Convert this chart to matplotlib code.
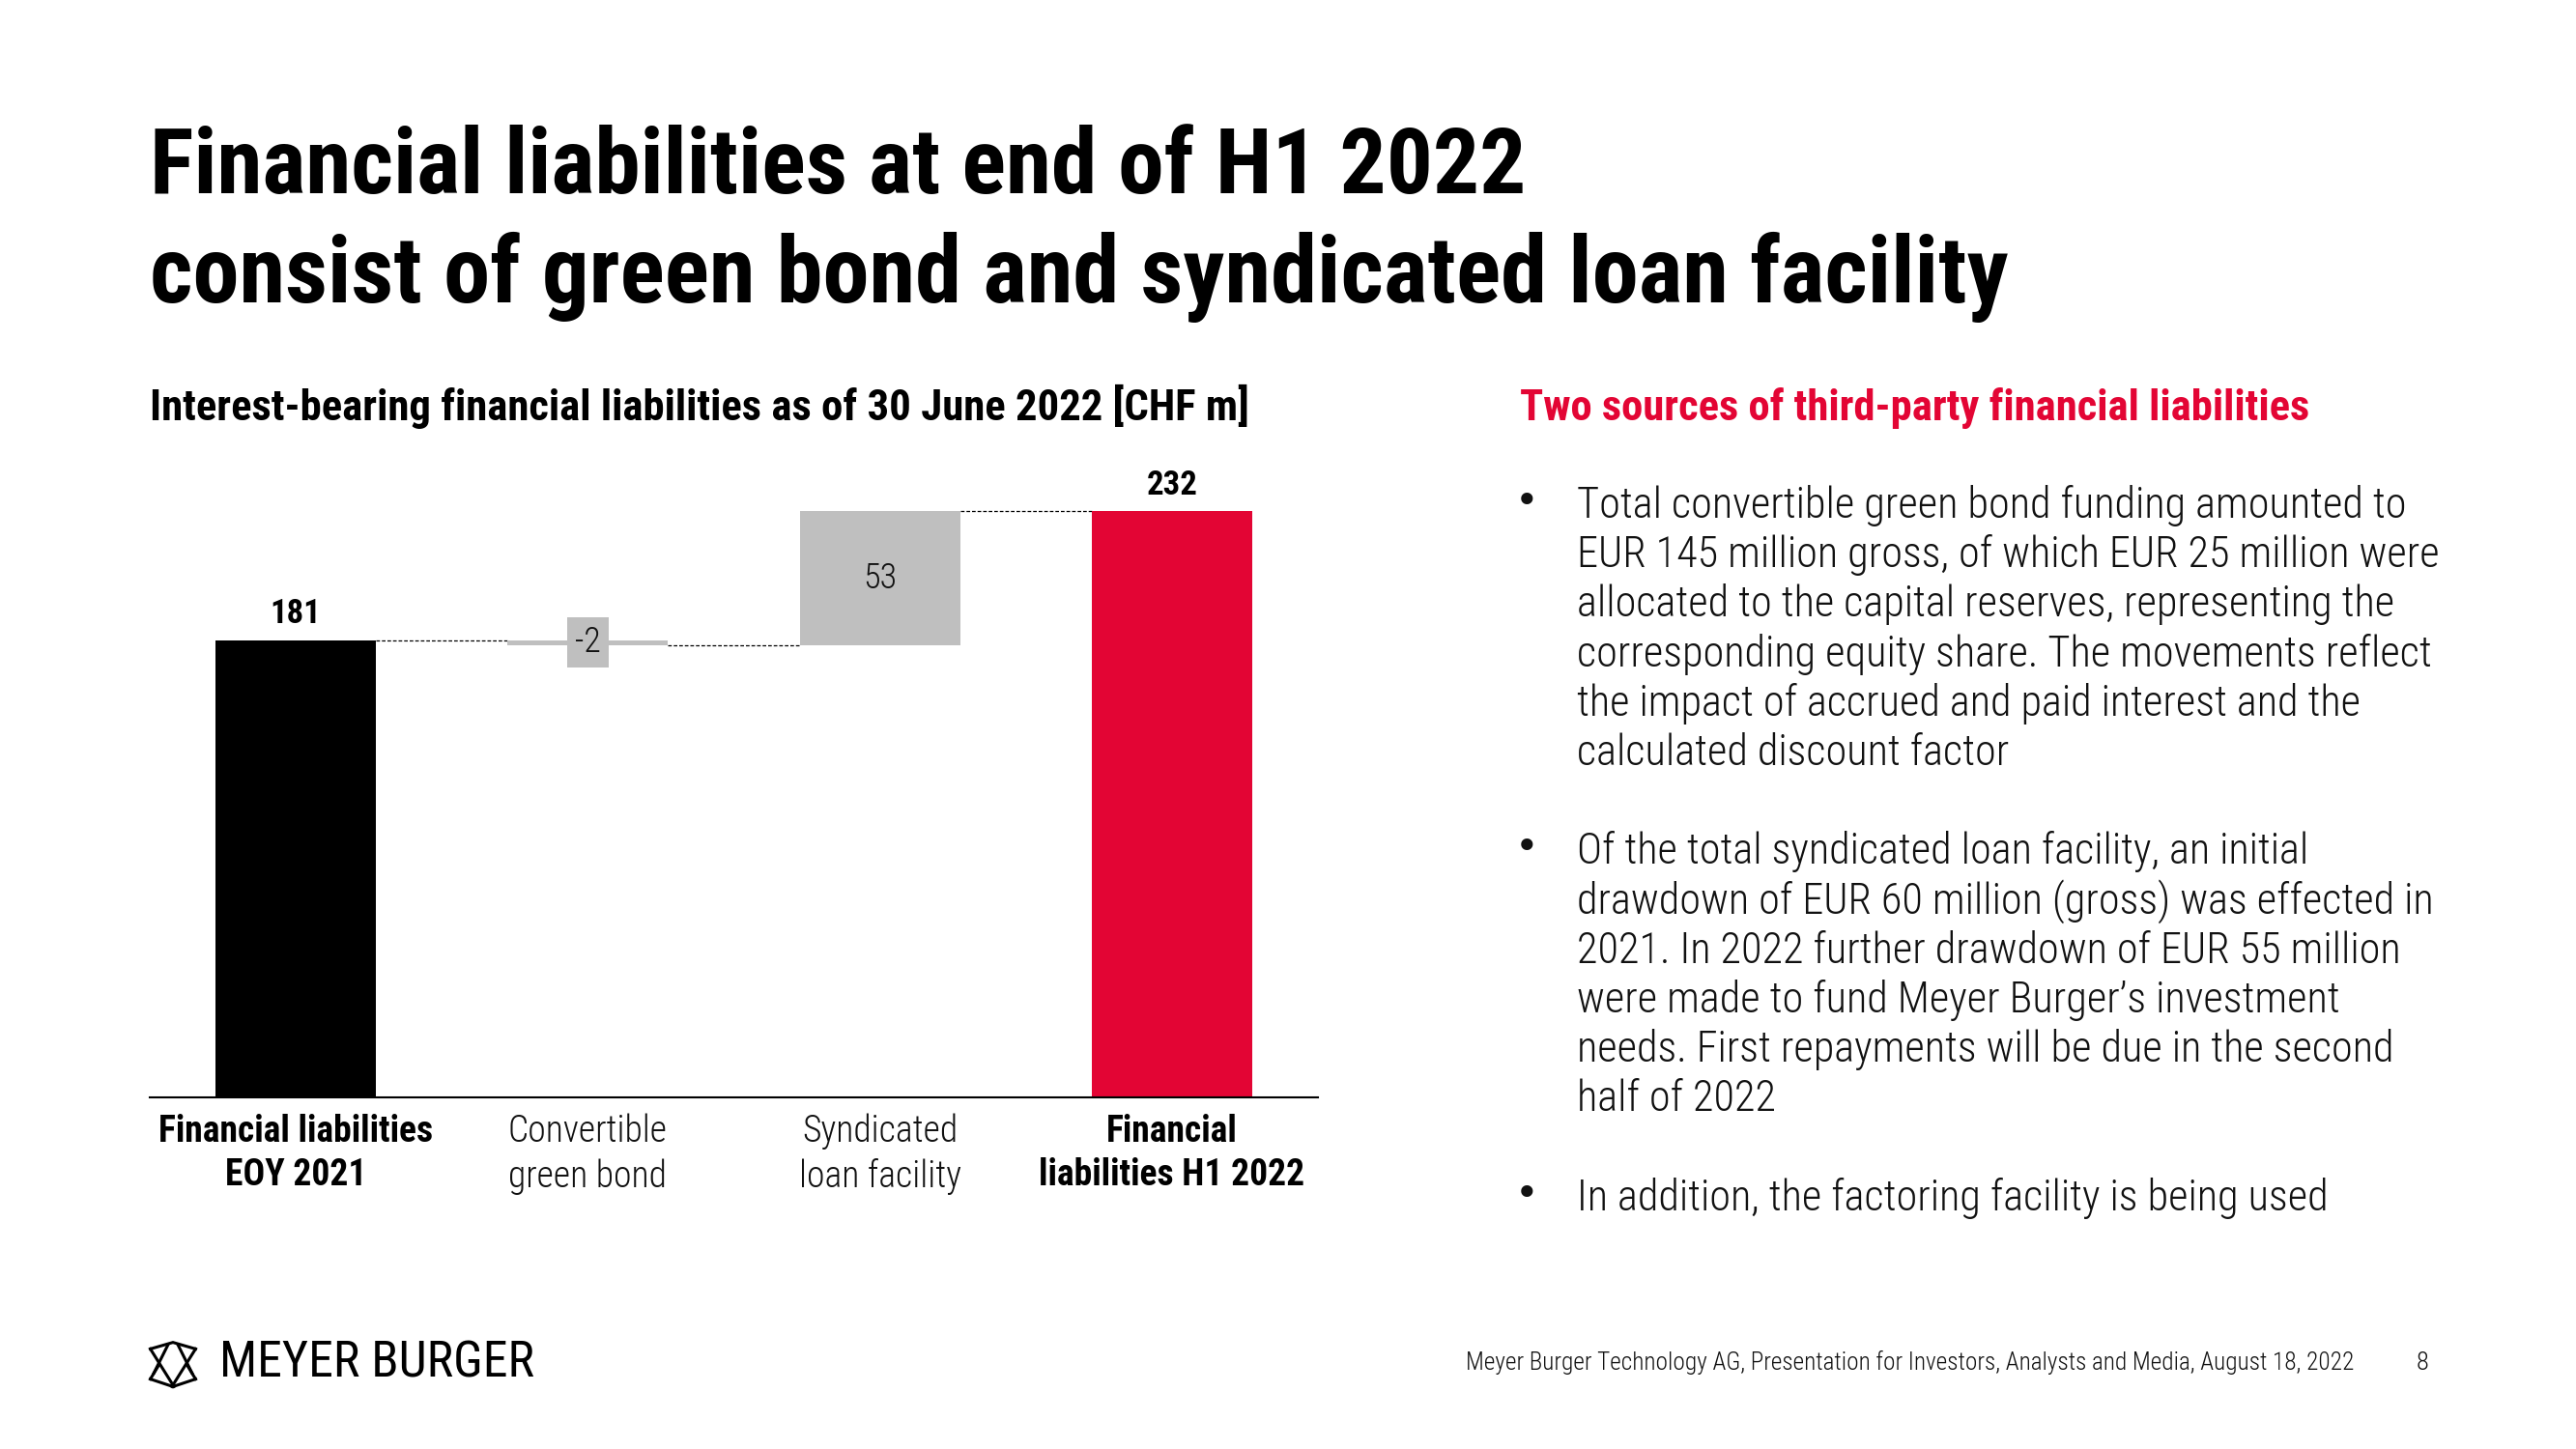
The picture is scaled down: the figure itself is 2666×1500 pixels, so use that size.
import matplotlib
matplotlib.use("Agg")
import matplotlib.pyplot as plt
import numpy as np
from matplotlib import font_manager as fm

# ---------------- data ----------------
categories = ["Financial liabilities\nEOY 2021", "Convertible\ngreen bond",
              "Syndicated\nloan facility", "Financial\nliabilities H1 2022"]
values = [181, -2, 53, 232]
kinds = ["total", "delta", "delta", "total"]
value_labels = ["181", "-2", "53", "232"]
bold_categories = [True, False, False, True]
bar_colors = ["#000000", "#BFBFBF", "#BFBFBF", "#E30534"]

title_lines = ["Financial liabilities at end of H1 2022",
               "consist of green bond and syndicated loan facility"]
subtitle = "Interest-bearing financial liabilities as of 30 June 2022 [CHF m]"
right_heading = "Two sources of third-party financial liabilities"
bullets = [
    ["Total convertible green bond funding amounted to",
     "EUR 145 million gross, of which EUR 25 million were",
     "allocated to the capital reserves, representing the",
     "corresponding equity share. The movements reflect",
     "the impact of accrued and paid interest and the",
     "calculated discount factor"],
    ["Of the total syndicated loan facility, an initial",
     "drawdown of EUR 60 million (gross) was effected in",
     "2021. In 2022 further drawdown of EUR 55 million",
     "were made to fund Meyer Burger\u2019s investment",
     "needs. First repayments will be due in the second",
     "half of 2022"],
    ["In addition, the factoring facility is being used"],
]
footer_text = "Meyer Burger Technology AG, Presentation for Investors, Analysts and Media, August 18, 2022"
page_number = "8"
brand = "MEYER BURGER"

# ---------------- fonts ----------------
avail = {f.name for f in fm.fontManager.ttflist}
FONT = next((f for f in ["Roboto Condensed", "Liberation Sans Narrow",
                         "Open Sans Condensed", "Lato"] if f in avail), "DejaVu Sans")
plt.rcParams["font.family"] = [FONT, "DejaVu Sans"]

RED = "#E30534"
TXT = "#111111"

W, H = 2666, 1500
fig = plt.figure(figsize=(W / 100, H / 100), dpi=100)
fig.patch.set_facecolor("white")

to_fit = []  # (text, target width px)


def ftext(x, y, s, target_w=None, **kw):
    kw.setdefault("va", "baseline")
    t = fig.text(x / W, 1 - y / H, s, **kw)
    if target_w is not None:
        to_fit.append((t, target_w))
    return t


# ---------------- chart ----------------
ax_left, ax_right, ax_bottom = 155, 1364, 1136
ymax = 260
px_per_unit = 2.615
ax = fig.add_axes([ax_left / W, 1 - ax_bottom / H, (ax_right - ax_left) / W,
                   ymax * px_per_unit / H])

x = np.arange(len(values))
bottoms, heights = [], []
running = 0
for v, k in zip(values, kinds):
    if k == "total":
        bottoms.append(0)
        heights.append(v)
        running = v
    else:
        bottoms.append(running)
        heights.append(v)
        running += v

bw = 0.55
ax.bar(x, heights, bottom=bottoms, width=bw, color=bar_colors, edgecolor="none", zorder=2)

# connectors
for i in range(len(values) - 1):
    level = bottoms[i] + heights[i]
    ax.plot([x[i] + bw / 2, x[i + 1] - bw / 2], [level, level], color="black",
            lw=0.9, ls=(0, (3, 1.6)), zorder=1)

# value labels
for i, (lab, k) in enumerate(zip(value_labels, kinds)):
    if k == "total":
        ax.annotate(lab, (x[i], bottoms[i] + heights[i]), xytext=(0, 12.5),
                    textcoords="offset points", ha="center", va="baseline",
                    fontsize=25, fontweight="bold", color="black")
    else:
        ax.text(x[i], bottoms[i] + heights[i] / 2, lab, ha="center", va="center",
                fontsize=26, fontweight="light", color="#111111", zorder=3,
                bbox=dict(boxstyle="square,pad=0.22", facecolor=bar_colors[i],
                          edgecolor="none"))

ax.set_xlim(-0.5, 3.5)
ax.set_ylim(0, ymax)
for s in ["top", "right", "left"]:
    ax.spines[s].set_visible(False)
ax.spines["bottom"].set_linewidth(1.5)
ax.spines["bottom"].set_color("black")
ax.set_yticks([])
ax.set_xticks(x)
ax.set_xticklabels(categories, linespacing=1.3)
ax.tick_params(axis="x", length=0, pad=12, labelsize=21)
for lbl, b in zip(ax.get_xticklabels(), bold_categories):
    lbl.set_fontweight("bold" if b else "light")
    lbl.set_color("black" if b else TXT)

# ---------------- texts ----------------
ftext(155, 200, title_lines[0], target_w=1426, fontsize=60, fontweight="bold", color="black")
ftext(155, 313, title_lines[1], target_w=1923, fontsize=60, fontweight="bold", color="black")
ftext(155, 435, subtitle, target_w=1143, fontsize=24, fontweight="bold", color="black")
ftext(1573, 435, right_heading, target_w=819, fontsize=24, fontweight="bold", color=RED)

pitch = 51.2
y0 = 536
line_idx = 0
bullet_texts = []
for bi, block in enumerate(bullets):
    ftext(1580, y0 + line_idx * pitch - 4, "\u2022", ha="center", fontsize=30,
          color=TXT, family="DejaVu Sans")
    for li, line in enumerate(block):
        t = ftext(1632, y0 + line_idx * pitch, line, fontsize=26, fontweight="light", color=TXT)
        bullet_texts.append(t)
        line_idx += 1
    line_idx += 1

foot = ftext(1517, 1418, footer_text, target_w=920, fontsize=14, fontweight="light", color=TXT)
pg = ftext(2507, 1418, page_number, ha="center", fontsize=18, fontweight="light", color=TXT)
ftext(227, 1425, brand, target_w=326, fontsize=24, fontweight="normal", color="black")

# brand icon (drawn as lines in figure pixel box)
ix0, iy0, isz = 153, 1386, 52


def icon_line(pts):
    xs = [(ix0 + px * isz) / W for px, py in pts]
    ys = [1 - (iy0 + (1 - py) * isz) / H for px, py in pts]
    fig.add_artist(plt.Line2D(xs, ys, color="black", lw=2.2, solid_joinstyle="miter"))


icon_line([(0.05, 0.80), (0.50, 0.93), (0.95, 0.80)])
icon_line([(0.05, 0.20), (0.50, 0.05), (0.95, 0.20)])
icon_line([(0.05, 0.80), (0.52, 0.05)])
icon_line([(0.95, 0.80), (0.48, 0.05)])
icon_line([(0.40, 0.88), (0.12, 0.32)])
icon_line([(0.60, 0.88), (0.88, 0.32)])
icon_line([(0.05, 0.20), (0.22, 0.48)])
icon_line([(0.95, 0.20), (0.78, 0.48)])

# ---------------- fit widths ----------------
fig.canvas.draw()
r = fig.canvas.get_renderer()
for t, w in to_fit:
    cur = t.get_window_extent(r).width
    t.set_fontsize(t.get_fontsize() * w / cur)
pg.set_fontsize(foot.get_fontsize() * 1.05)

# bullets: fit by first line, apply to all
cur = bullet_texts[0].get_window_extent(r).width
fs = bullet_texts[0].get_fontsize() * 857 / cur
for t in bullet_texts:
    t.set_fontsize(fs)

# category labels: fit widest bold label line
lbl0 = ax.get_xticklabels()[0]
cur = lbl0.get_window_extent(r).width
cfs = lbl0.get_fontsize() * 285 / cur
for lbl in ax.get_xticklabels():
    lbl.set_fontsize(cfs)

fig.savefig("out.png", dpi=100, facecolor="white")
